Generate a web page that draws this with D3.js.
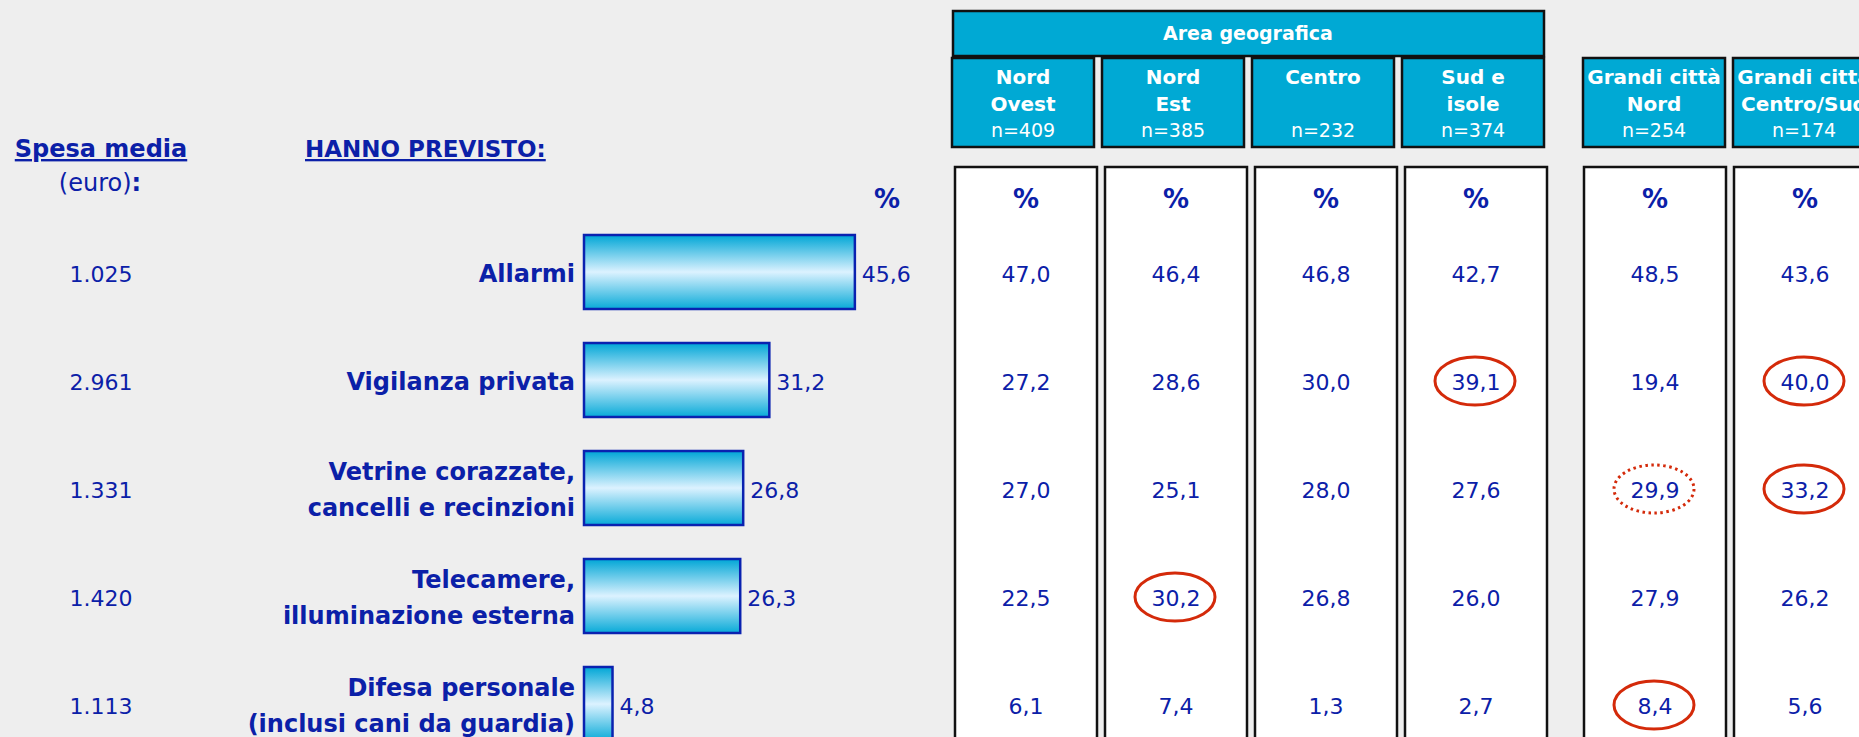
<!DOCTYPE html>
<html>
<head>
<meta charset="utf-8">
<script src="https://cdn.jsdelivr.net/npm/d3@7"></script>
<style>
html,body{margin:0;padding:0;background:#eeeeee;overflow:hidden;}
svg{display:block;}
</style>
</head>
<body>
<svg id="chart" width="1859" height="737"></svg>
<script>
// ---------- DATA ----------
const categories = [
  ["Allarmi"],
  ["Vigilanza privata"],
  ["Vetrine corazzate,", "cancelli e recinzioni"],
  ["Telecamere,", "illuminazione esterna"],
  ["Difesa personale", "(inclusi cani da guardia)"]
];
const totals = [45.6, 31.2, 26.8, 26.3, 4.8];
const spesaMedia = ["1.025", "2.961", "1.331", "1.420", "1.113"];

const geoNames = [["Nord", "Ovest"], ["Nord", "Est"], ["Centro"], ["Sud e", "isole"]];
const geoN = [409, 385, 232, 374];
const nordOvest = [47.0, 27.2, 27.0, 22.5, 6.1];
const nordEst   = [46.4, 28.6, 25.1, 30.2, 7.4];
const centro    = [46.8, 30.0, 28.0, 26.8, 1.3];
const sudIsole  = [42.7, 39.1, 27.6, 26.0, 2.7];

const cityNames = [["Grandi città", "Nord"], ["Grandi città", "Centro/Sud"]];
const cityN = [254, 174];
const gcNord    = [48.5, 19.4, 29.9, 27.9, 8.4];
const gcCentroSud = [43.6, 40.0, 33.2, 26.2, 5.6];

// highlighted cells: [group, column index, row index, style]
const highlights = [
  ["geo", 3, 1, "solid"],
  ["city", 1, 1, "solid"],
  ["city", 0, 2, "dotted"],
  ["city", 1, 2, "solid"],
  ["geo", 1, 3, "solid"],
  ["city", 0, 4, "solid"]
];

// ---------- STYLE ----------
const BLUE = "#0b20a8";
const CYAN = "#00a9d4";
const RED = "#d42a0a";
const FONT = "'DejaVu Sans', Verdana, sans-serif";

const svg = d3.select("#chart").style("font-family", FONT);
const fmt = v => d3.format(".1f")(v).replace(".", ",");

// gradient for bars
const defs = svg.append("defs");
const grad = defs.append("linearGradient").attr("id", "barGrad")
  .attr("x1", 0).attr("y1", 0).attr("x2", 0).attr("y2", 1);
grad.append("stop").attr("offset", "0%").attr("stop-color", "#00a6d6");
grad.append("stop").attr("offset", "50%").attr("stop-color", "#dcf2ff");
grad.append("stop").attr("offset", "100%").attr("stop-color", "#08aad8");

// ---------- SCALES ----------
const rowIdx = d3.range(categories.length);
const y = d3.scalePoint().domain(rowIdx).range([274, 706]);
const x = d3.scaleLinear().domain([0, 100]).range([584, 584 + 594]);
const geoX = d3.scaleBand().domain(d3.range(geoNames.length)).range([955, 1547]).paddingInner(8 / 150).paddingOuter(0);
const cityX = d3.scaleBand().domain(d3.range(cityNames.length)).range([1584, 1876]).paddingInner(8 / 150).paddingOuter(0);

// ---------- LEFT TITLES ----------
svg.append("text").attr("x", 101).attr("y", 157).attr("text-anchor", "middle")
  .attr("fill", BLUE).attr("font-weight", "bold").attr("font-size", 24)
  .attr("text-decoration", "underline").text("Spesa media");
const euro = svg.append("text").attr("x", 100).attr("y", 191).attr("text-anchor", "middle")
  .attr("fill", BLUE).attr("font-size", 24);
euro.append("tspan").text("(euro)");
euro.append("tspan").attr("font-weight", "bold").text(":");

svg.append("text").attr("x", 305).attr("y", 157)
  .attr("fill", BLUE).attr("font-weight", "bold").attr("font-size", 23)
  .attr("text-decoration", "underline").text("HANNO PREVISTO:");

svg.append("text").attr("x", 887).attr("y", 208).attr("text-anchor", "middle")
  .attr("fill", BLUE).attr("font-weight", "bold").attr("font-size", 26).text("%");

// ---------- LEFT ROWS ----------
const rows = svg.append("g").selectAll("g").data(rowIdx).join("g");

rows.append("text").attr("x", 101).attr("y", i => y(i) + 8).attr("text-anchor", "middle")
  .attr("fill", BLUE).attr("font-size", 22).text(i => spesaMedia[i]);

rows.each(function(i) {
  const lines = categories[i];
  const g = d3.select(this);
  lines.forEach((ln, k) => {
    const off = lines.length === 1 ? 0 : (k === 0 ? -18 : 18);
    g.append("text").attr("x", 575).attr("y", y(i) + off + 8).attr("text-anchor", "end")
      .attr("fill", BLUE).attr("font-weight", "bold").attr("font-size", 24).text(ln);
  });
});

rows.append("rect").attr("x", x(0)).attr("y", i => y(i) - 2 - 37)
  .attr("width", i => x(totals[i]) - x(0)).attr("height", 74)
  .attr("fill", "url(#barGrad)").attr("stroke", "#0a22b0").attr("stroke-width", 2.5);

rows.append("text").attr("x", i => x(totals[i]) + 7).attr("y", i => y(i) + 8)
  .attr("fill", BLUE).attr("font-size", 22).text(i => fmt(totals[i]));

// ---------- TABLE ----------
const geoValues = [nordOvest, nordEst, centro, sudIsole];
const cityValues = [gcNord, gcCentroSud];

// Area geografica header
svg.append("rect").attr("x", geoX(0) - 2).attr("y", 11)
  .attr("width", geoX(3) + geoX.bandwidth() - geoX(0) - 1).attr("height", 45)
  .attr("fill", CYAN).attr("stroke", "#111").attr("stroke-width", 2.5);
svg.append("text").attr("x", (geoX(0) + geoX(3) + geoX.bandwidth()) / 2 - 3).attr("y", 40)
  .attr("text-anchor", "middle").attr("fill", "#fff").attr("font-weight", "bold")
  .attr("font-size", 19).text("Area geografica");

function drawColumns(scale, names, ns, values, hdrShift) {
  const cols = svg.append("g").selectAll("g").data(d3.range(names.length)).join("g");
  // header box
  cols.append("rect").attr("x", j => scale(j) - hdrShift).attr("y", 58)
    .attr("width", scale.bandwidth()).attr("height", 89)
    .attr("fill", CYAN).attr("stroke", "#111").attr("stroke-width", 2.5);
  cols.each(function(j) {
    const g = d3.select(this);
    const cx = scale(j) - hdrShift + scale.bandwidth() / 2;
    names[j].forEach((ln, k) => {
      g.append("text").attr("x", cx).attr("y", 84 + k * 27).attr("text-anchor", "middle")
        .attr("fill", "#fff").attr("font-weight", "bold").attr("font-size", 20).text(ln);
    });
    g.append("text").attr("x", cx).attr("y", 137).attr("text-anchor", "middle")
      .attr("fill", "#fff").attr("font-size", 19).text("n=" + ns[j]);
  });
  // data box
  cols.append("rect").attr("x", j => scale(j)).attr("y", 167)
    .attr("width", scale.bandwidth()).attr("height", 620)
    .attr("fill", "#fff").attr("stroke", "#111").attr("stroke-width", 2.5);
  cols.append("text").attr("x", j => scale(j) + scale.bandwidth() / 2).attr("y", 208)
    .attr("text-anchor", "middle").attr("fill", BLUE).attr("font-weight", "bold")
    .attr("font-size", 26).text("%");
  cols.each(function(j) {
    d3.select(this).selectAll("text.val").data(values[j]).join("text").attr("class", "val")
      .attr("x", scale(j) + scale.bandwidth() / 2).attr("y", (v, i) => y(i) + 8)
      .attr("text-anchor", "middle").attr("fill", BLUE).attr("font-size", 22)
      .text(v => fmt(v));
  });
}
drawColumns(geoX, geoNames, geoN, geoValues, 3);
drawColumns(cityX, cityNames, cityN, cityValues, 1);

// ---------- HIGHLIGHT ELLIPSES ----------
svg.append("g").selectAll("ellipse").data(highlights).join("ellipse")
  .attr("cx", h => { const s = h[0] === "geo" ? geoX : cityX; return s(h[1]) + s.bandwidth() / 2 - 1; })
  .attr("cy", h => y(h[2]) - 1)
  .attr("rx", 40).attr("ry", 24)
  .attr("fill", "none").attr("stroke", RED)
  .attr("stroke-width", 3)
  .attr("stroke-dasharray", h => h[3] === "dotted" ? "2.5,3.5" : null);
</script>
</body>
</html>
